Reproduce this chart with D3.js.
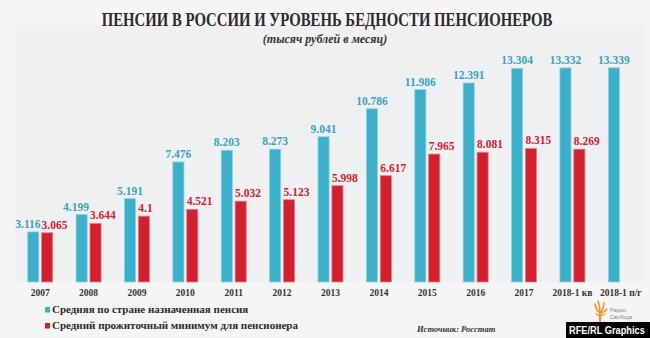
<!DOCTYPE html>
<html><head><meta charset="utf-8">
<script src="https://cdn.jsdelivr.net/npm/d3@7"></script>
<style>
html,body{margin:0;padding:0;background:#f5f5f5;}
svg{display:block;}
</style></head>
<body>
<script>
const categories = ['2007','2008','2009','2010','2011','2012','2013','2014','2015','2016','2017','2018-1 кв','2018-1 п/г'];
const pension = [3.116,4.199,5.191,7.476,8.203,8.273,9.041,10.786,11.986,12.391,13.304,13.332,13.339];
const minimum = [3.065,3.644,4.1,4.521,5.032,5.123,5.998,6.617,7.965,8.081,8.315,8.269,null];
const seriesNames = ['Средняя по стране назначенная пенсия','Средний прожиточный минимум для пенсионера'];
const title = 'ПЕНСИИ В РОССИИ И УРОВЕНЬ БЕДНОСТИ ПЕНСИОНЕРОВ';
const subtitle = '(тысяч рублей в месяц)';
const source = 'Источник: Росстат';

const W = 650, H = 338;
const blue = '#3db0c9', red = '#d3202f';
const blueText = '#3aa3bd', redText = '#d3202f';
const serif = '"Liberation Serif", "DejaVu Serif", serif';
const sans = '"Liberation Sans", Arial, sans-serif';

const svg = d3.select('body').append('svg').attr('width', W).attr('height', H);
svg.append('rect').attr('width', W).attr('height', H).attr('fill', '#f5f5f5');

const panel = {x0: 16, x1: 645, y0: 25, y1: 282};
svg.append('rect').attr('x', panel.x0).attr('y', panel.y0)
  .attr('width', panel.x1 - panel.x0).attr('height', panel.y1 - panel.y0).attr('fill', '#eff0f2');

// text squeezed horizontally to a target width
function fitText(parent, cx, cy, targetW, anchor, attrs, str) {
  const gg = parent.append('g');
  const t = gg.append('text').attr('text-anchor', anchor).text(str);
  Object.entries(attrs).forEach(([k, v]) => t.attr(k, v));
  const w = t.node().getComputedTextLength();
  const s = Math.min(1, targetW / w);
  gg.attr('transform', `translate(${cx},${cy}) scale(${s},1)`);
  return gg;
}

fitText(svg, 327, 25.5, 451, 'middle',
  {'font-family': serif, 'font-weight': 'bold', 'font-size': 19, fill: '#2b2b2b'}, title);
fitText(svg, 325, 43, 129, 'middle',
  {'font-family': serif, 'font-weight': 'bold', 'font-style': 'italic', 'font-size': 12, fill: '#333'}, subtitle);

const x = d3.scaleBand().domain(categories).range([panel.x0, panel.x1]).paddingInner(0).paddingOuter(0);
const x1 = d3.scaleBand().domain(['p','m']).range([-12.5, 12.5]).paddingInner(0.2);
const y = d3.scaleLinear().domain([0, 14]).range([panel.y1, panel.y1 - 14 * 16.06]);
const center = c => x(c) + x.bandwidth() / 2;

const data = categories.map((c, i) => ({c, p: pension[i], m: minimum[i]}));

const g = svg.append('g');
g.selectAll('rect.p').data(data).join('rect').attr('class', 'p')
  .attr('x', d => center(d.c) + x1('p')).attr('width', x1.bandwidth())
  .attr('y', d => y(d.p)).attr('height', d => y(0) - y(d.p))
  .attr('fill', blue).attr('stroke', '#8fd3e2').attr('stroke-width', 0.8);
g.selectAll('rect.m').data(data.filter(d => d.m != null)).join('rect').attr('class', 'm')
  .attr('x', d => center(d.c) + x1('m')).attr('width', x1.bandwidth())
  .attr('y', d => y(d.m)).attr('height', d => y(0) - y(d.m))
  .attr('fill', red).attr('stroke', '#ea7b84').attr('stroke-width', 0.8);

// value labels
g.selectAll('text.p').data(data).join('text').attr('class', 'p')
  .attr('y', d => y(d.p) - 4)
  .attr('text-anchor', 'start').attr('font-family', serif).attr('font-weight', 'bold').attr('font-size', 11.5)
  .attr('fill', blueText).text(d => String(d.p))
  .each(function(d) {
    const w = this.getComputedTextLength();
    let left = center(d.c) + x1('p') + x1.bandwidth() / 2 - w / 2;
    if (d.m != null && Math.abs(y(d.p) - y(d.m)) < 12) {
      left = Math.min(left, center(d.c) + x1('m') - 1 - w);
    }
    d3.select(this).attr('x', left);
  });
g.selectAll('text.m').data(data.filter(d => d.m != null)).join('text').attr('class', 'm')
  .attr('x', d => center(d.c) + x1('m')).attr('y', d => y(d.m) - 4)
  .attr('text-anchor', 'start').attr('font-family', serif).attr('font-weight', 'bold').attr('font-size', 11.5)
  .attr('fill', redText).text(d => String(d.m));

// x axis
const ax = svg.append('g').attr('transform', `translate(0,${panel.y1})`)
  .call(d3.axisBottom(x).tickSize(0).tickPadding(7));
ax.select('.domain').remove();
ax.selectAll('text').attr('font-family', serif).attr('font-weight', 'bold').attr('font-size', 9.5).attr('fill', '#333');

// legend
const leg = svg.append('g');
[[blue, 0], [red, 1]].forEach(([col, i]) => {
  const yy = 307 + i * 16;
  leg.append('rect').attr('x', 45).attr('y', yy).attr('width', 5).attr('height', 5.5).attr('fill', col);
  leg.append('text').attr('x', 52).attr('y', yy + 5.5).attr('font-family', serif).attr('font-weight', 'bold')
    .attr('font-size', 11).attr('fill', '#2b2b2b').text(seriesNames[i]);
});

// source
svg.append('text').attr('x', 417).attr('y', 332).attr('font-family', serif).attr('font-weight', 'bold')
  .attr('font-style', 'italic').attr('font-size', 8.5).attr('fill', '#333').text(source);

// logo
const logo = svg.append('g').attr('stroke', '#f7941d').attr('fill', 'none').attr('stroke-linecap', 'round');
logo.append('path').attr('d', 'M600,313 L600,321').attr('stroke-width', 2.2);
logo.append('path').attr('d', 'M600,313 Q596,310 595,304').attr('stroke-width', 1.6);
logo.append('path').attr('d', 'M600,312 Q600,306 598,301').attr('stroke-width', 1.6);
logo.append('path').attr('d', 'M601,312 Q604,308 604,303').attr('stroke-width', 1.6);
logo.append('path').attr('d', 'M601,313 Q605,312 607,309').attr('stroke-width', 1.4);
logo.append('path').attr('d', 'M596,314 Q600,317 605,314').attr('stroke-width', 1.4);
svg.append('text').attr('x', 610).attr('y', 312).attr('font-family', sans).attr('font-size', 5.5)
  .attr('fill', '#888').text('Радио');
svg.append('text').attr('x', 610).attr('y', 319).attr('font-family', sans).attr('font-size', 5.5)
  .attr('fill', '#888').text('Свобода');

// RFE/RL badge
svg.append('rect').attr('x', 566).attr('y', 322).attr('width', 84).attr('height', 16).attr('fill', '#000');
fitText(svg, 569, 334, 76, 'start',
  {'font-family': sans, 'font-weight': 'bold', 'font-size': 10.5, fill: '#fff'}, 'RFE/RL Graphics');
</script>
</body></html>
